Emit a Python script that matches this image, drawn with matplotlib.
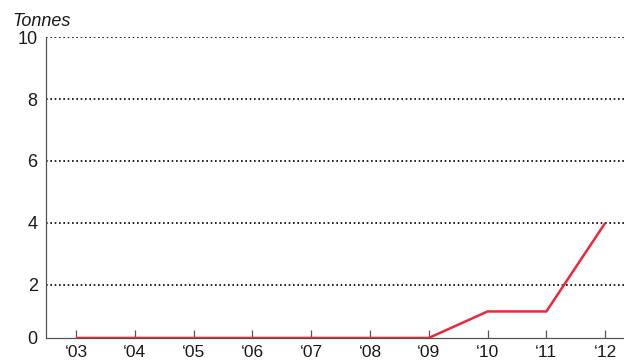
import numpy as np
import matplotlib.pyplot as plt

plt.rcParams['font.family'] = ['Liberation Sans', 'DejaVu Sans']

# Data
years = [2003, 2004, 2005, 2006, 2007, 2008, 2009, 2010, 2011, 2012]
tonnes = [0, 0, 0, 0, 0, 0, 0, 1, 1, 4]
year_labels = ["\u201803", "\u201804", "\u201805", "\u201806", "\u201807",
               "\u201808", "\u201809", "\u201810", "\u201811", "\u201812"]
y_ticks = [0, 2, 4, 6, 8, 10]

# the source chart squeezes the 0-2 band a little
knots_in = [0, 2, 10]
knots_out = [0, 1.71, 9.71]


def fwd(y):
    return np.interp(y, knots_in, knots_out, left=-1e9, right=1e9)


def inv(y):
    return np.interp(y, knots_out, knots_in, left=-1e9, right=1e9)


fig = plt.figure(figsize=(6.24, 3.63), dpi=100)
ax = fig.add_axes([0.0737, 0.069, 0.9263, 0.829])

ax.set_yscale("function", functions=(fwd, inv))
ax.plot(years, tonnes, color="#e8293b", lw=1.8, zorder=3, solid_capstyle="butt")

ax.set_xlim(2002.49, 2012.32)
ax.set_ylim(0, 10)
ax.set_yticks(y_ticks)
ax.set_yticklabels([str(v) for v in y_ticks], fontsize=13, color="#1a1a1a")
ax.yaxis.set_minor_locator(plt.NullLocator())
ax.set_xticks(years)
ax.set_xticklabels(year_labels, fontsize=12.5, color="#1a1a1a")

for v in y_ticks[1:]:
    ax.axhline(v, color="black", lw=1.2, ls=(0, (1, 1.6)), zorder=1)

for s in ["top", "right"]:
    ax.spines[s].set_visible(False)
ax.spines["left"].set_color("#555555")
ax.spines["bottom"].set_color("#555555")
ax.spines["left"].set_linewidth(0.9)
ax.spines["bottom"].set_linewidth(0.9)

ax.tick_params(axis="x", direction="in", length=6, width=0.9, color="#555555", pad=5)
ax.tick_params(axis="y", length=0, pad=6)

ax.text(-0.059, 1.025, "Tonnes", transform=ax.transAxes, fontsize=13,
        fontstyle="italic", ha="left", va="bottom", color="#1a1a1a")

fig.savefig("out.png", dpi=100)
